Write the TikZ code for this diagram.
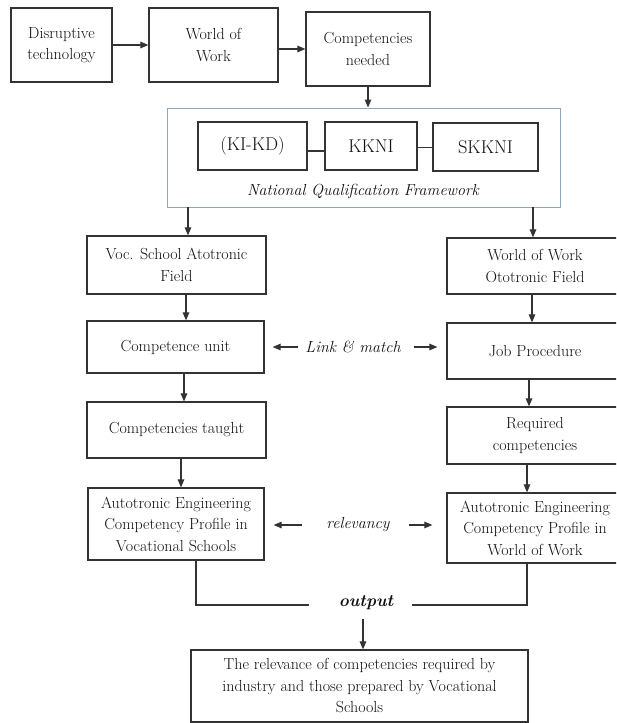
\documentclass[tikz,border=0pt]{standalone}
\usetikzlibrary{arrows.meta}
\definecolor{lncol}{HTML}{333333}
\definecolor{nqfcol}{HTML}{8FA6BD}
\definecolor{txcol}{HTML}{111111}
\tikzset{
  box/.style={draw=lncol, line width=1.2pt, fill=white, align=center, text=txcol,
    font=\fontsize{16}{21.5}\selectfont, inner sep=2pt},
  subbox/.style={box, font=\fontsize{18.5}{22}\selectfont},
  arr/.style={draw=lncol, line width=1.1pt, -{Triangle[length=8pt,width=6.5pt]}},
  plainln/.style={draw=lncol, line width=1.1pt},
  lbl/.style={text=txcol, font=\fontsize{16}{20}\selectfont\itshape, inner sep=0pt}
}
\begin{document}
\begin{tikzpicture}[x=1pt,y=-1pt]
\useasboundingbox (0,0) rectangle (616,723);
\clip (0,0) rectangle (616,723);
\fill[white] (0,0) rectangle (616,723);
% top row
\node[box, minimum width=101pt, minimum height=74pt] (dis) at (61.5,45) {Disruptive\\technology};
\node[box, minimum width=129pt, minimum height=74pt] (wow) at (213.5,45) {World of\\Work};
\node[box, minimum width=124pt, minimum height=74pt] (comp) at (368,49) {Competencies\\needed};
\draw[arr] (dis.east) -- (wow.west);
\draw[arr] (wow.east |- comp.west) -- (comp.west);
% NQF
\node[draw=nqfcol, line width=0.9pt, minimum width=393pt, minimum height=99pt] (nqf) at (363.5,157.5) {};
\draw[arr] (comp.south) -- (comp.south |- nqf.north);
\node[subbox, minimum width=109pt, minimum height=48pt] (kikd) at (252.5,146) {(KI-KD)};
\node[subbox, minimum width=92pt, minimum height=48pt] (kkni) at (371,146) {KKNI};
\node[subbox, minimum width=105pt, minimum height=48pt] (skkni) at (485.5,147) {SKKNI};
\draw[plainln] ([yshift=-5pt]kikd.east) -- ([yshift=-5pt]kikd.east -| kkni.west);
\draw[plainln] ([yshift=-1.5pt]kkni.east) -- ([yshift=-1.5pt]kkni.east -| skkni.west);
\node[lbl] (nqflbl) at (363,191) {National Qualification Framework};
% left column
\node[box, minimum width=179pt, minimum height=58pt] (voc) at (176.5,265) {Voc. School Atotronic\\Field};
\node[box, minimum width=177pt, minimum height=52pt] (cu) at (175.5,347) {Competence unit};
\node[box, minimum width=179pt, minimum height=56pt] (ct) at (176.5,430) {Competencies taught};
\node[box, minimum width=176pt, minimum height=72pt] (aev) at (176,524) {Autotronic Engineering\\Competency Profile in\\Vocational Schools};
% right column
\node[box, minimum width=176pt, minimum height=56pt] (woo) at (535,266) {World of Work\\Ototronic Field};
\node[box, minimum width=176pt, minimum height=56pt] (jp) at (535,351) {Job Procedure};
\node[box, minimum width=176pt, minimum height=57pt] (rc) at (535,435.5) {Required\\competencies};
\node[box, minimum width=176pt, minimum height=70pt] (aew) at (535,528) {Autotronic Engineering\\Competency Profile in\\World of Work};
% vertical arrows
\draw[arr] ([xshift=11.5pt]voc.north |- nqf.south) -- ([xshift=11.5pt]voc.north);
\draw[arr] ([xshift=-2pt]woo.north |- nqf.south) -- ([xshift=-2pt]woo.north);
\draw[arr] ([xshift=9.5pt]voc.south) -- ([xshift=9.5pt]voc.south |- cu.north);
\draw[arr] ([xshift=8.5pt]cu.south) -- ([xshift=8.5pt]cu.south |- ct.north);
\draw[arr] ([xshift=4.5pt]ct.south) -- ([xshift=4.5pt]ct.south |- aev.north);
\draw[arr] ([xshift=-3pt]woo.south) -- ([xshift=-3pt]woo.south |- jp.north);
\draw[arr] ([xshift=-6pt]jp.south) -- ([xshift=-6pt]jp.south |- rc.north);
\draw[arr] ([xshift=-8pt]rc.south) -- ([xshift=-8pt]rc.south |- aew.north);
% link & match
\node[lbl, inner xsep=7pt] (lm) at (353,347) {Link \& match};
\draw[arr] (lm.west) -- ([xshift=8pt]lm.west -| cu.east);
\draw[arr] ([xshift=6pt]lm.east) -- ([xshift=-9pt]lm.east -| jp.west);
% relevancy
\node[lbl, inner xsep=0pt] (rel) at (358,525) {relevancy};
\draw[arr] ([xshift=-24pt]rel.west) -- ([xshift=9pt]rel.west -| aev.east);
\draw[arr] ([xshift=19pt]rel.east) -- ([xshift=-14pt]rel.east -| aew.west);
% output
\node[text=txcol, font=\fontsize{17}{20}\selectfont\bfseries\itshape, inner sep=0pt] (out) at (366,603) {output};
\node[box, minimum width=337pt, minimum height=72pt] (res) at (359.5,686) {The relevance of competencies required by\\industry and those prepared by Vocational\\Schools};
\draw[plainln] ([xshift=20pt]aev.south) |- ([xshift=-30pt,yshift=-2pt]out.west);
\draw[plainln] ([xshift=-8pt]aew.south) |- ([xshift=19pt,yshift=-2pt]out.east);
\draw[arr] ([xshift=-3pt,yshift=-9pt]out.south) -- ([xshift=-3pt]out.south |- res.north);
\end{tikzpicture}
\end{document}
